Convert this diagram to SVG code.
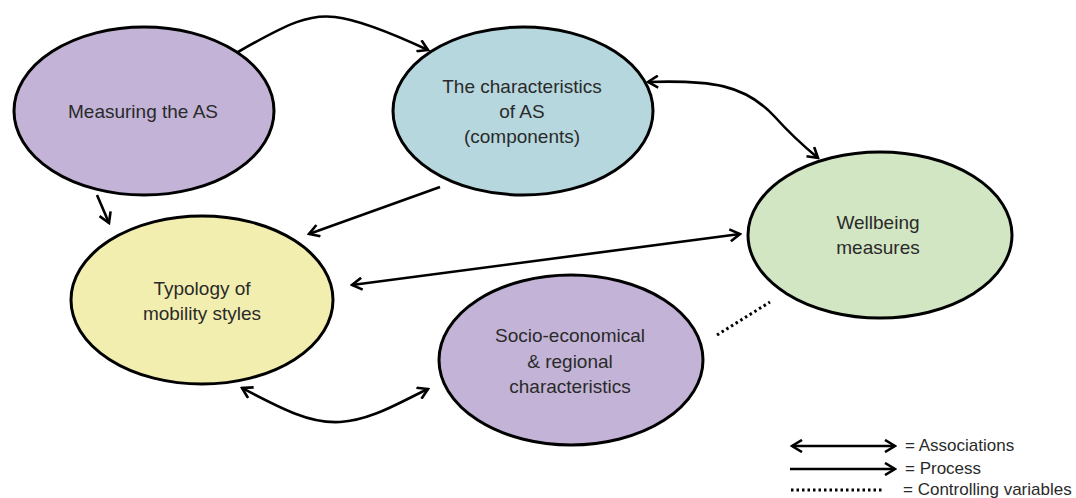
<svg xmlns="http://www.w3.org/2000/svg" width="1076" height="498" viewBox="0 0 1076 498">
<style>
.node{stroke:#000;stroke-width:3}
.lbl{font-family:"Liberation Sans",Arial,sans-serif;font-size:19px;fill:#2a2a2a;text-anchor:middle}
.leg{font-family:"Liberation Sans",Arial,sans-serif;font-size:17px;fill:#2a2a2a}
.con{fill:none;stroke:#000;stroke-width:2.6}
.dot{fill:none;stroke:#000;stroke-width:3;stroke-dasharray:2.5 3}
</style>
<defs>
<marker id="ah" viewBox="0 0 14 14" refX="12" refY="7" markerWidth="14" markerHeight="14" markerUnits="userSpaceOnUse" orient="auto-start-reverse">
<path d="M2,1 L12,7 L2,13" fill="none" stroke="#000" stroke-width="2.6" stroke-linejoin="miter"/>
</marker>
</defs>
<rect width="1076" height="498" fill="#fff"/>
<g id="connectors">
<path class="con" d="M238,52 C 290,22 310,14 335,17 C 362,20 400,37 428,50" marker-end="url(#ah)"/>
<path class="con" d="M97,195 L109,223" marker-end="url(#ah)"/>
<path class="con" d="M440,187 L309,234" marker-end="url(#ah)"/>
<path class="con" d="M648,82 C 710,80 745,84 775,117 C 792,136 806,148 818,158" marker-start="url(#ah)" marker-end="url(#ah)"/>
<path class="con" d="M352,285 L740,234" marker-start="url(#ah)" marker-end="url(#ah)"/>
<path class="con" d="M242,388 C 280,408 310,424 340,422 C 372,420 400,402 428,389" marker-start="url(#ah)" marker-end="url(#ah)"/>
<path class="dot" d="M717,335 L770,302"/>
</g>
<g id="n-measuring">
<ellipse class="node" cx="144" cy="111" rx="130" ry="84" fill="#c3b4d7"/>
<text class="lbl" x="143" y="118">Measuring the AS</text>
</g>
<g id="n-characteristics">
<ellipse class="node" cx="523" cy="111" rx="130" ry="84" fill="#b6d7de"/>
<text class="lbl" x="522" y="93">The characteristics</text>
<text class="lbl" x="522" y="118">of AS</text>
<text class="lbl" x="522" y="143">(components)</text>
</g>
<g id="n-wellbeing">
<ellipse class="node" cx="880" cy="235" rx="132" ry="83" fill="#d2e6c3"/>
<text class="lbl" x="878" y="229">Wellbeing</text>
<text class="lbl" x="878" y="254">measures</text>
</g>
<g id="n-typology">
<ellipse class="node" cx="202" cy="300" rx="131" ry="84" fill="#f2eeaf"/>
<text class="lbl" x="202" y="295">Typology of</text>
<text class="lbl" x="202" y="320">mobility styles</text>
</g>
<g id="n-socio">
<ellipse class="node" cx="571" cy="360" rx="132" ry="85" fill="#c3b4d7"/>
<text class="lbl" x="570" y="342">Socio-economical</text>
<text class="lbl" x="570" y="368">&amp; regional</text>
<text class="lbl" x="570" y="393">characteristics</text>
</g>
<g id="legend">
<path class="con" d="M792,446 L895,446" stroke-width="3" marker-start="url(#ah)" marker-end="url(#ah)"/>
<path class="con" d="M790,469 L895,469" stroke-width="3" marker-end="url(#ah)"/>
<path class="dot" d="M791,490 L882,490"/>
<text class="leg" x="905" y="451">= Associations</text>
<text class="leg" x="905" y="474">= Process</text>
<text class="leg" x="903" y="495">= Controlling variables</text>
</g>
</svg>
